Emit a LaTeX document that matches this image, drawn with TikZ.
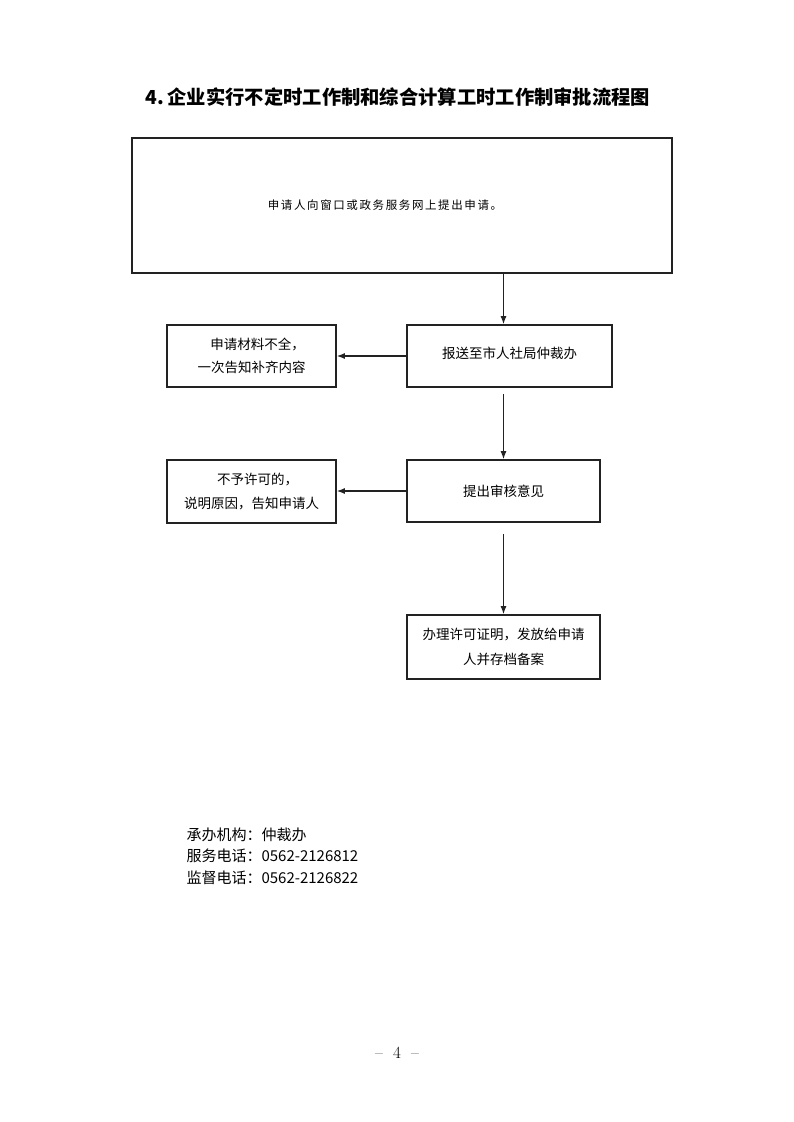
\documentclass[tikz,border=0pt]{standalone}
\usepackage{fontspec}
\usepackage{tikz}
\usetikzlibrary{shapes,arrows.meta,positioning,calc}
\newfontfamily\cjk{Noto Sans CJK SC}
\definecolor{boxline}{HTML}{222222}

\tikzset{
  flowbox/.style={draw=boxline,line width=1.6pt,rectangle,inner sep=0pt,align=center,
    font=\cjk\fontsize{13.5}{26.5}\selectfont},
  flowarrow/.style={-{Latex[length=8pt,width=6pt]},line width=1.3pt,boxline}
}

\begin{document}
\begin{tikzpicture}[x=1pt,y=-1pt]
  \useasboundingbox (0,0) rectangle (793,1122);

  % Title
  \node[font=\cjk\bfseries\fontsize{19.3}{24}\selectfont] (title) at (398,97)
    {4.\,企业实行不定时工作制和综合计算工时工作制审批流程图};

  % Main column
  \node[flowbox,minimum width=540pt,minimum height=135pt] (apply) at (402,205.5)
    {\hspace*{-34pt}\raisebox{-3pt}{\addfontfeature{LetterSpace=14}\fontsize{11.5}{14}\selectfont 申请人向窗口或政务服务网上提出申请。}};
  \node[flowbox,minimum width=205pt,minimum height=62pt] (submit) at (509.5,356)
    {\raisebox{6pt}{报送至市人社局仲裁办}};
  \node[flowbox,minimum width=193pt,minimum height=62pt] (review) at (503.5,491)
    {\raisebox{-2pt}{提出审核意见}};
  \node[flowbox,minimum width=193pt,minimum height=64pt] (grant) at (503.5,647)
    {\raisebox{-2pt}{办理许可证明，发放给申请}\\人并存档备案};

  % Side boxes
  \node[flowbox,minimum width=169pt,minimum height=62pt] (incomplete) at (251.5,356)
    {\raisebox{-4pt}{\hspace*{12pt}申请材料不全，}\\一次告知补齐内容};
  \node[flowbox,minimum width=169pt,minimum height=63pt] (refuse) at (251.5,491.5)
    {\raisebox{-4pt}{\hspace*{12pt}不予许可的，}\\[1.5pt]说明原因，告知申请人};

  % Arrows
  \draw[flowarrow] (review.north |- apply.south) -- (review.north |- submit.north);
  \draw[flowarrow,shorten <=6pt] (review.north |- submit.south) -- (review.north);
  \draw[flowarrow,shorten <=11pt] (review.south) -- (grant.north);
  \draw[flowarrow] (submit.west) -- (incomplete.east);
  \draw[flowarrow] (review.west) -- (review.west -| refuse.east);

  % Contact info
  \node[anchor=west,align=left,font=\cjk\fontsize{15}{21.5}\selectfont] (contact) at (183,856)
    {承办机构：仲裁办\\服务电话：0562-2126812\\监督电话：0562-2126822};

  % Page number
  \node[font=\fontsize{17}{18}\selectfont] (page) at (397,1053) {--\ \ 4\ \ --};
\end{tikzpicture}
\end{document}
